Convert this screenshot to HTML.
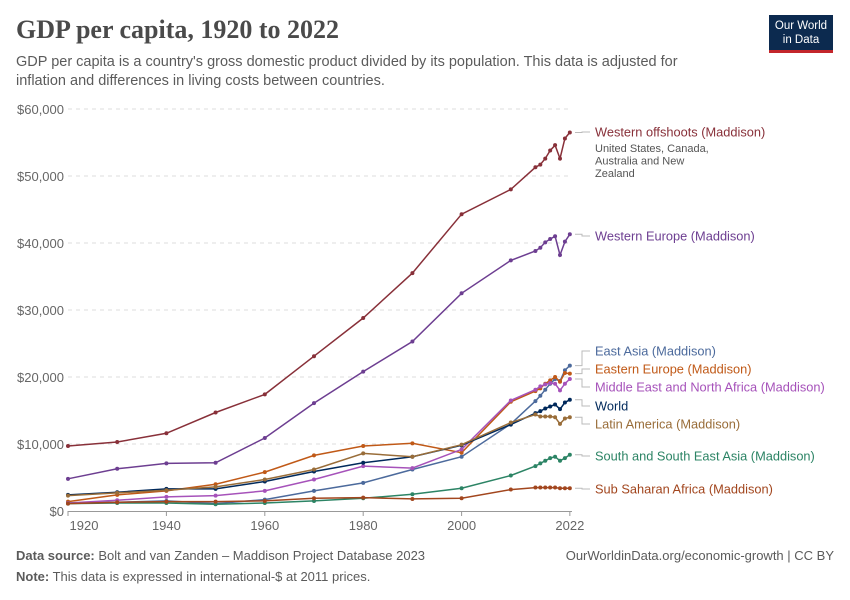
<!DOCTYPE html>
<html><head><meta charset="utf-8"><style>
body{margin:0;background:#fff;font-family:"Liberation Sans",sans-serif;}
#wrap{position:relative;width:850px;height:600px;overflow:hidden;}
.t{position:absolute;margin:0;}
</style></head><body>
<div id="wrap">
<h1 class="t" style="left:16px;top:15px;font-family:'Liberation Serif',serif;font-size:26px;font-weight:bold;color:#4a4a4a;">GDP per capita, 1920 to 2022</h1>
<p class="t" style="left:16px;top:53px;font-size:14.5px;line-height:19px;color:#5b5b5b;width:700px;">GDP per capita is a country's gross domestic product divided by its population. This data is adjusted for inflation and differences in living costs between countries.</p>
<div class="t" style="left:769px;top:15px;width:64px;height:38px;background:#0c2a4f;border-bottom:3px solid #c3262b;color:#fff;font-size:11.5px;line-height:14px;text-align:center;padding-top:4px;box-sizing:border-box;">Our World<br>in Data</div>
<svg id="chart" class="t" style="left:0;top:0" width="850" height="600"></svg>
<p class="t" style="left:16px;top:548px;font-size:13px;color:#5b5b5b;"><b>Data source:</b> Bolt and van Zanden – Maddison Project Database 2023</p>
<p class="t" style="right:16px;top:548px;font-size:13px;color:#5b5b5b;">OurWorldinData.org/economic-growth | CC BY</p>
<p class="t" style="left:16px;top:569px;font-size:13px;color:#5b5b5b;"><b>Note:</b> This data is expressed in international-$ at 2011 prices.</p>
</div>
<script>
const years=[1920,1930,1940,1950,1960,1970,1980,1990,2000,2010,2015,2016,2017,2018,2019,2020,2021,2022];
const seriesNames=["Western offshoots (Maddison)","Western Europe (Maddison)","East Asia (Maddison)","Eastern Europe (Maddison)","Middle East and North Africa (Maddison)","World","Latin America (Maddison)","South and South East Asia (Maddison)","Sub Saharan Africa (Maddison)"];
const westernOffshoots=[9700,10300,11600,14700,17400,23100,28800,35500,44300,48000,51300,51700,52600,53800,54600,52600,55600,56500];
const westernEurope=[4800,6300,7100,7200,10900,16100,20800,25300,32500,37400,38800,39300,40100,40600,41000,38200,40200,41300];
const eastAsia=[1200,1300,1500,1100,1700,3000,4200,6200,8100,13000,16400,17200,18100,19000,19700,19400,21000,21700];
const easternEurope=[1400,2400,3000,4000,5800,8300,9700,10100,8700,16300,17900,18300,19000,19500,20000,19300,20600,20500];
const mena=[1200,1600,2100,2300,3000,4700,6700,6400,9200,16500,18100,18600,18900,19100,19000,18000,19000,19700];
const world=[2400,2800,3300,3300,4400,5900,7200,8100,9800,12900,14600,14900,15300,15600,15900,15200,16200,16600];
const latinAmerica=[2300,2700,3100,3600,4700,6200,8600,8100,9900,13200,14400,14100,14100,14100,14000,13000,13800,14000];
const southAsia=[1100,1200,1200,1000,1200,1500,1900,2500,3400,5300,6700,7100,7500,7900,8100,7500,7900,8400];
const subSaharan=[1100,1300,1400,1400,1500,1900,2000,1800,1900,3200,3500,3500,3500,3500,3500,3400,3400,3400];
const yTicks=[0,10000,20000,30000,40000,50000,60000];
const yTickLabels=["$0","$10,000","$20,000","$30,000","$40,000","$50,000","$60,000"];
const xTicks=[1920,1940,1960,1980,2000,2022];

const allSeries=[westernOffshoots,westernEurope,eastAsia,easternEurope,mena,world,latinAmerica,southAsia,subSaharan];
const colors=["#883039","#6d3e91","#4c6a9c","#c05917","#a652ba","#00295b","#996d39","#2c8465","#a2461e"];
const labelY=[132,236,351,369,387,406,424,456,489];
const slugs=["western-offshoots","western-europe","east-asia","eastern-europe","mena","world","latin-america","south-southeast-asia","sub-saharan-africa"];
const x=y=>68+(y-1920)*4.92;
const yy=v=>511-v*0.0067;
const svg=document.getElementById('chart');
const NS="http://www.w3.org/2000/svg";
function mk(tag,attrs){const e=document.createElementNS(NS,tag);for(const k in attrs)e.setAttribute(k,attrs[k]);svg.appendChild(e);return e;}
yTicks.forEach((v,i)=>{
  if(v>0){const g=mk('line',{x1:68,x2:572,y1:yy(v),y2:yy(v),stroke:'#ddd','stroke-dasharray':'4,4'});
  
  }
  const t=mk('text',{x:64,y:yy(v)+5,'text-anchor':'end','font-size':13,fill:'#666','font-family':'Liberation Sans'});
  t.textContent=yTickLabels[i];
  
  
});
const ax=mk('line',{x1:68,x2:572,y1:511.5,y2:511.5,stroke:'#999'});


xTicks.forEach(yr=>{
  mk('line',{x1:x(yr),x2:x(yr),y1:511,y2:516,stroke:'#999'});
  const t=mk('text',{x:yr===1920?x(yr)+16:x(yr),y:530,'text-anchor':'middle','font-size':13,fill:'#666','font-family':'Liberation Sans'});
  t.textContent=yr;
  
  
});
allSeries.forEach((s,i)=>{
  const d=s.map((v,j)=>(j?'L':'M')+x(years[j]).toFixed(1)+','+yy(v).toFixed(1)).join(' ');
  const p=mk('path',{d:d,fill:'none',stroke:colors[i],'stroke-width':1.5});
  
  
  s.forEach((v,j)=>{const c=mk('circle',{cx:x(years[j]),cy:yy(v),r:2,fill:colors[i]});
    
    });
  const ey=yy(s[s.length-1]);
  const ly=labelY[i];
  mk('path',{d:`M575,${ey} H582 V${ly} H590`,fill:'none',stroke:'#bbb','stroke-width':1});
  const t=mk('text',{x:595,y:ly+4.5,'font-size':12.8,fill:colors[i],'font-family':'Liberation Sans'});
  t.textContent=seriesNames[i];
  
  
});
["United States, Canada,","Australia and New","Zealand"].forEach((s,i)=>{
  const t=mk('text',{x:595,y:152+i*12.5,'font-size':11,fill:'#555','font-family':'Liberation Sans'});
  t.textContent=s;
  
  
});
</script>
</body></html>
